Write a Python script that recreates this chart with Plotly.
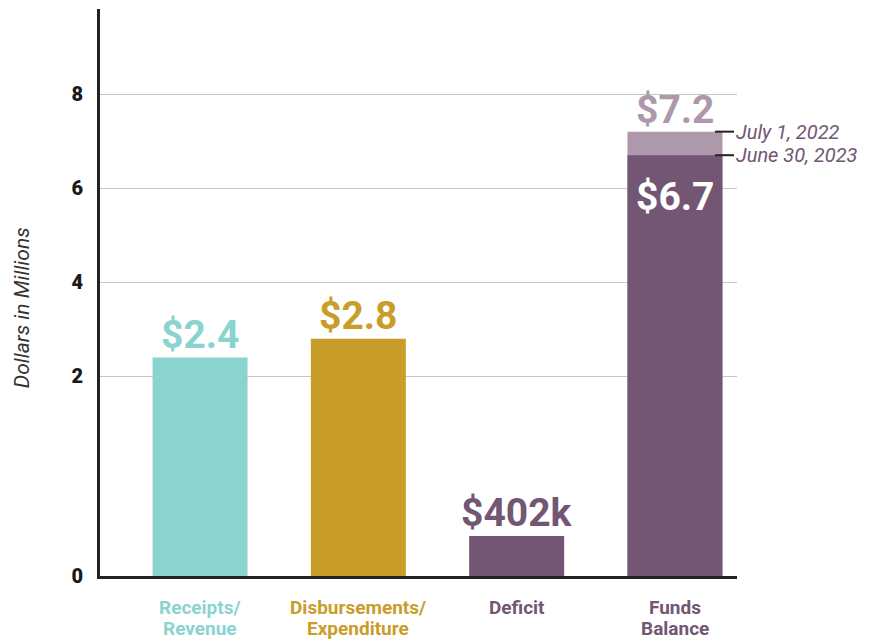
"""
Receipts, disbursements, deficit and funds balance bar chart
"""
import plotly.graph_objects as go

# Data (dollars in millions)
categories = ["Receipts/Revenue", "Disbursements/Expenditure", "Deficit", "Funds Balance"]
category_lines = [("Receipts/", "Revenue"), ("Disbursements/", "Expenditure"),
                  ("Deficit", ""), ("Funds", "Balance")]
values = [2.4, 2.8, 0.402, 6.7]
bar_labels = ["$2.4", "$2.8", "$402k", "$6.7"]
opening_balance = 7.2
opening_label = "$7.2"
balance_dates = ["July 1, 2022", "June 30, 2023"]
y_ticks = [0, 2, 4, 6, 8]

TEAL = "#8bd3cf"
GOLD = "#c99d2a"
PURPLE = "#725673"
LIGHT_PURPLE = "#ae99ac"
bar_colors = [TEAL, GOLD, PURPLE, PURPLE]

# The original axis stretches the 0-2 band; everything above 2 is linear
LOW_STRETCH = 2.12


def to_axis(v):
    """Map a dollar value onto the stretched y axis"""
    if v <= 2:
        return v * LOW_STRETCH
    return 2 * LOW_STRETCH + (v - 2)


fig = go.Figure()

# Opening balance sits behind the closing balance
fig.add_trace(go.Bar(
    x=[categories[3]],
    y=[to_axis(opening_balance)],
    marker=dict(color=LIGHT_PURPLE, line=dict(width=0)),
    width=0.6,
    hoverinfo="skip",
))
fig.add_trace(go.Bar(
    x=categories,
    y=[to_axis(v) for v in values],
    marker=dict(color=bar_colors, line=dict(width=0)),
    width=0.6,
    hoverinfo="skip",
))

# Value labels
for cat, v, label, color in zip(categories, values, bar_labels, bar_colors):
    if cat == "Funds Balance":
        # closing balance is written inside the bar in white
        fig.add_annotation(x=cat, y=to_axis(v), text=label, showarrow=False,
                           yanchor="top", yshift=-17,
                           font=dict(family="Roboto", size=39, color="white", weight=700))
    else:
        fig.add_annotation(x=cat, y=to_axis(v), text=label, showarrow=False,
                           yanchor="bottom", yshift=-2,
                           font=dict(family="Roboto", size=39, color=color, weight=700))

fig.add_annotation(x=categories[3], y=to_axis(opening_balance), text=opening_label,
                   showarrow=False, yanchor="bottom", yshift=-3,
                   font=dict(family="Roboto", size=39, color=LIGHT_PURPLE, weight=700))

# Category names under the bars, tight line spacing like the original
for cat, (line1, line2), color in zip(categories, category_lines, bar_colors):
    for text, shift in [(line1, -31), (line2, -52)]:
        if text:
            fig.add_annotation(x=cat, y=0, text=text, showarrow=False,
                               yanchor="middle", yshift=shift,
                               font=dict(family="Roboto", size=19, color=color, weight=700))

# Date call-outs on the right of the balance bar
for date, v in zip(balance_dates, [opening_balance, values[3]]):
    fig.add_shape(type="line", xref="paper", yref="y",
                  x0=0.9655, x1=0.9953, y0=to_axis(v), y1=to_axis(v),
                  line=dict(color="#222222", width=2))
    fig.add_annotation(xref="paper", x=1.0, y=to_axis(v), text=date,
                       showarrow=False, xanchor="left", yanchor="middle", xshift=-3,
                       font=dict(family="Roboto", size=20, color=PURPLE, style="italic"))

# Y axis title
fig.add_annotation(xref="paper", yref="paper", x=-0.1225, y=0.474,
                   xanchor="center", yanchor="middle",
                   text="Dollars in Millions", textangle=-90, showarrow=False,
                   font=dict(family="Roboto", size=21, color="#333333", style="italic"))

fig.update_layout(
    width=861,
    height=633,
    margin=dict(l=92, r=132, t=1, b=65),
    paper_bgcolor="white",
    plot_bgcolor="white",
    barmode="overlay",
    showlegend=False,
    font=dict(family="Roboto"),
    xaxis=dict(
        type="category",
        categoryorder="array",
        categoryarray=categories,
        range=[-0.632, 3.392],
        showticklabels=False,
        ticks="",
        showline=True,
        linecolor="#222222",
        linewidth=3,
        showgrid=False,
        zeroline=False,
        automargin=False,
        fixedrange=True,
    ),
    yaxis=dict(
        range=[0, 12.046],
        tickmode="array",
        tickvals=[to_axis(t) for t in y_ticks],
        ticktext=[str(t) for t in y_ticks],
        tickfont=dict(family="Roboto", size=20, color="#1a1a1a", weight=900),
        ticks="",
        ticklabelstandoff=10,
        showline=True,
        linecolor="#222222",
        linewidth=3,
        showgrid=True,
        gridcolor="#c6c6c6",
        gridwidth=1.3,
        zeroline=False,
        automargin=False,
        fixedrange=True,
    ),
)

fig.write_html("out.html")
